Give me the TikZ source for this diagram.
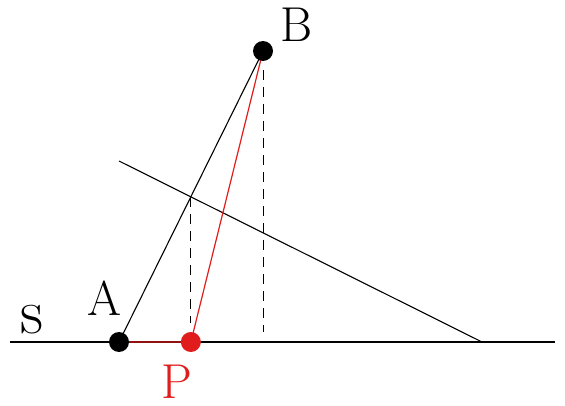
\documentclass[tikz,border=0pt]{standalone}
\usepackage{fontspec}
\usepackage{tikz}
\usetikzlibrary{calc}
\definecolor{punktrot}{RGB}{225,28,28}

\begin{document}
\begin{tikzpicture}[x=1pt,y=1pt,
  punkt/.style={circle,fill,inner sep=0pt,minimum size=20pt},
  beschr/.style={anchor=base,inner sep=0pt,font=\rmfamily\fontsize{49}{49}\selectfont},
  lot/.style={dashed,dash pattern=on 10pt off 7pt,line width=1pt}]
\useasboundingbox (0,0) rectangle (565,405);
\coordinate (A) at (119,63);
\coordinate (B) at (263,354);
\coordinate (g1) at (119,244);
\coordinate (g2) at (482,63);
\coordinate (Q) at (intersection of A--B and g1--g2);
\coordinate (P) at (Q |- A);
\coordinate (s1) at (10,63);
\coordinate (s2) at (555,63);
% Gerade s und Hilfsgerade
\draw[line width=1.1pt] (s1) -- (s2);
\draw[line width=1.1pt] (g1) -- (g2);
\draw[line width=1.1pt] (A) -- (B);
% Lote
\draw[lot] (Q) -- ($(Q |- A)+(0,19)$);
\draw[lot] ($(B)-(0,19)$) -- ($(B |- A)+(0,10)$);
% Weg ueber P
\draw[punktrot,line width=1.2pt] (A) -- (P) -- (B);
\node[punkt] (dotA) at (A) {};
\node[punkt] (dotB) at (B) {};
\node[punkt,punktrot] (dotP) at (P) {};
\node[beschr] (lA) at (104,90) {A};
\node[beschr] (lB) at (297,363) {B};
\node[beschr,punktrot] (lP) at (177,7) {P};
\node[beschr,font=\rmfamily\fontsize{64}{64}\selectfont] (ls) at (32,72) {s};
\end{tikzpicture}
\end{document}
